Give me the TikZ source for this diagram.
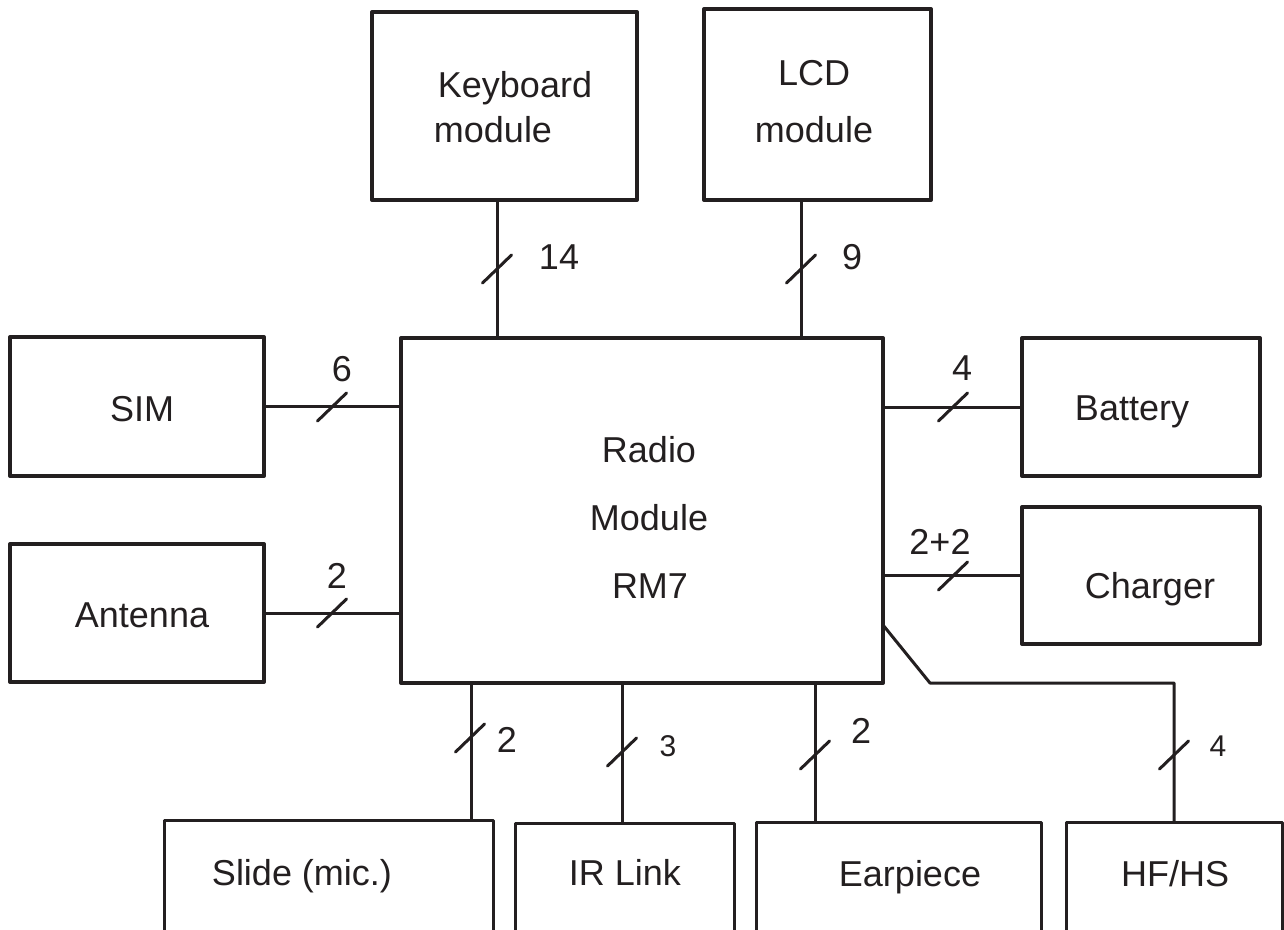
\documentclass[tikz,border=0pt]{standalone}
\usepackage{fontspec}
\setmainfont{Liberation Sans}
\definecolor{ink}{HTML}{231F20}
\begin{document}
\begin{tikzpicture}[x=1pt,y=-1pt, line join=round,
  every node/.style={text=ink, font=\fontsize{36}{43}\selectfont, inner sep=0pt},
  box/.style={draw=ink, line width=4pt, rectangle, inner sep=0pt, outer sep=0pt},
  lowbox/.style={draw=ink, line width=3pt, rectangle, inner sep=0pt, outer sep=0pt, anchor=north, minimum height=140pt},
  txt/.style={anchor=base},
  small/.style={anchor=base, font=\fontsize{30}{36}\selectfont},
  conn/.style={draw=ink, line width=3pt},
  busmark/.pic={\draw[conn, line cap=round] (-14.5,14) -- (14.5,-14);}]
\useasboundingbox (0,0) rectangle (1284,929);
\clip (0,0) rectangle (1284,929);

% boxes
\node[box, minimum width=265pt, minimum height=188pt] (kb) at (504.5,106) {};
\node[box, minimum width=227pt, minimum height=191pt] (lcd) at (817.5,104.5) {};
\node[box, minimum width=482pt, minimum height=345pt] (radio) at (642,510.5) {};
\node[box, minimum width=254pt, minimum height=139pt] (sim) at (137,406.5) {};
\node[box, minimum width=254pt, minimum height=138pt] (ant) at (137,613) {};
\node[box, minimum width=238pt, minimum height=138pt] (bat) at (1141,407) {};
\node[box, minimum width=238pt, minimum height=137pt] (chg) at (1141,575.5) {};
\node[lowbox, minimum width=329pt] (slide) at (328.5,820) {};
\node[lowbox, minimum width=219pt] (ir) at (624.5,823) {};
\node[lowbox, minimum width=285pt] (ear) at (898.5,822) {};
\node[lowbox, minimum width=216pt] (hf) at (1174,822) {};

% box texts
\node[txt] (kbt1) at (515,97) {Keyboard};
\node[txt] (kbt2) at (493,142) {module};
\node[txt] (lcdt1) at (814,85) {LCD};
\node[txt] (lcdt2) at (814,142) {module};
\node[txt] (simt) at (142,421) {SIM};
\node[txt] (antt) at (142,627) {Antenna};
\node[txt] (rt1) at (649,462) {Radio};
\node[txt] (rt2) at (649,530) {Module};
\node[txt] (rt3) at (650,598) {RM7};
\node[txt] (batt) at (1132,420) {Battery};
\node[txt] (chgt) at (1150,598) {Charger};
\node[txt] (slidet) at (302,885) {Slide (mic.)};
\node[txt] (irt) at (625,885) {IR Link};
\node[txt] (eart) at (910,886) {Earpiece};
\node[txt] (hft) at (1175,886) {HF/HS};

% connector x positions
\coordinate (kbx) at (497,0);
\coordinate (lcdx) at (801,0);
\coordinate (slx) at (471,0);
\coordinate (irx) at (622,0);
\coordinate (earx) at (815,0);
\coordinate (hfs) at (883,625);
\coordinate (hfbend) at (930,683);

% connectors
\draw[conn] (kb.south -| kbx) -- (radio.north -| kbx);
\draw[conn] (lcd.south -| lcdx) -- (radio.north -| lcdx);
\draw[conn] (sim.east) -- (sim.east -| radio.west);
\draw[conn] (ant.east) -- (ant.east -| radio.west);
\draw[conn] (bat.west -| radio.east) -- (bat.west);
\draw[conn] (chg.west -| radio.east) -- (chg.west);
\draw[conn] (radio.south -| slx) -- (slide.north -| slx);
\draw[conn] (radio.south -| irx) -- (ir.north -| irx);
\draw[conn] (radio.south -| earx) -- (ear.north -| earx);
\draw[conn] (hfs) -- (hfbend) -- (hfbend -| hf.north) -- (hf.north);

% bus marks
\pic at (497,269) {busmark};
\pic at (801,269) {busmark};
\pic at (332,407) {busmark};
\pic at (332,613) {busmark};
\pic at (953,407) {busmark};
\pic at (953,576) {busmark};
\pic at (470,738) {busmark};
\pic at (622,752) {busmark};
\pic at (815,755) {busmark};
\pic at (1174,755) {busmark};

% bus labels
\node[txt] (l14) at (559,269) {14};
\node[txt] (l9) at (852,269) {9};
\node[txt] (l6) at (342,381) {6};
\node[txt] (l2a) at (337,588) {2};
\node[txt] (l4b) at (962,380) {4};
\node[txt] (l22) at (940,554) {2+2};
\node[txt] (l2s) at (507,752) {2};
\node[small] (l3) at (668,756) {3};
\node[txt] (l2e) at (861,743) {2};
\node[small] (l4h) at (1218,756) {4};
\end{tikzpicture}
\end{document}
